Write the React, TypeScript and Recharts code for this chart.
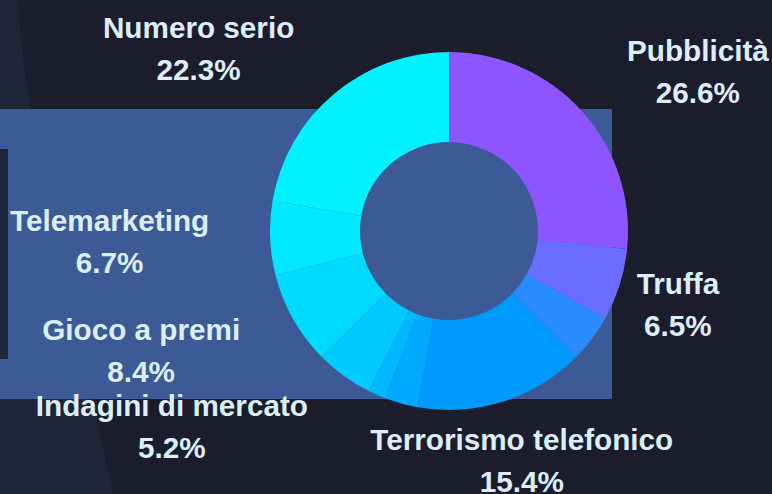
import React from 'react';
import { PieChart, Pie, Cell } from 'recharts';

// categorie e quote (%), in senso orario da ore 12
const categories = [
  'Pubblicità',
  'Truffa',
  'Sondaggi',
  'Terrorismo telefonico',
  'Politica',
  'Beneficenza',
  'Indagini di mercato',
  'Gioco a premi',
  'Telemarketing',
  'Numero serio',
];
const shares = [26.6, 6.5, 4.3, 15.4, 3.0, 1.6, 5.2, 8.4, 6.7, 22.3];
const sliceColors = [
  '#8c55ff', '#6a6dff', '#2a8bff', '#009aff', '#00aaff',
  '#00b8ff', '#00caff', '#00daff', '#00e8ff', '#00f2ff',
];

const data = categories.map((name, i) => ({ name, value: shares[i] }));

const W = 772;
const H = 494;
const FONT = 'bold 29.7px "Liberation Sans", Arial, sans-serif';
const TEXT = '#dceefa';

let ctx: CanvasRenderingContext2D | null = null;
const measure = (s: string) => {
  if (!ctx) ctx = document.createElement('canvas').getContext('2d');
  if (!ctx) return s.length * 15;
  ctx.font = FONT;
  return ctx.measureText(s).width;
};

const RAD = Math.PI / 180;

const renderLabel = (props: any) => {
  const { cx, cy, midAngle, outerRadius, name, value } = props;
  if (value < 5) return null;
  const r = outerRadius + 61;
  const x = cx + r * Math.cos(-midAngle * RAD);
  const y = cy + r * Math.sin(-midAngle * RAD) + 1;
  const pct = `${value.toFixed(1)}%`;
  const w = Math.max(measure(name), measure(pct));
  // blocco di testo: a sinistra allineato a destra, in alto a destra allineato a sinistra
  let center = x;
  if (x < cx - 50) center = x - w / 2;
  else if (y < cy - 100) center = x + w / 2;
  return (
    <g>
      <text x={center} y={y - 21} textAnchor="middle" dominantBaseline="central"
        fill={TEXT} style={{ font: FONT }}>{name}</text>
      <text x={center} y={y + 21} textAnchor="middle" dominantBaseline="central"
        fill={TEXT} style={{ font: FONT }}>{pct}</text>
    </g>
  );
};

export default function App() {
  return (
    <div style={{ position: 'fixed', left: 0, top: 0, width: W, height: H, background: '#1b1d2d', overflow: 'hidden' }}>
      <svg width={W} height={H} style={{ position: 'absolute', left: 0, top: 0 }}>
        <path d="M0,0 L18,0 C24,130 78,330 113,494 L0,494 Z" fill="#1f2639" />
        <rect x={0} y={109} width={612} height={290} fill="#3c5a96" />
        <rect x={0} y={149} width={8} height={210} fill="#1f2538" />
      </svg>
      <div style={{ position: 'absolute', left: 0, top: 0 }}>
        <PieChart width={W} height={H} margin={{ top: 0, right: 0, bottom: 0, left: 0 }}>
          <Pie
            data={data}
            dataKey="value"
            nameKey="name"
            cx={449}
            cy={231}
            innerRadius={89}
            outerRadius={179}
            startAngle={90}
            endAngle={-270}
            stroke="none"
            labelLine={false}
            label={renderLabel}
            isAnimationActive={false}
          >
            {data.map((d, i) => (
              <Cell key={d.name} fill={sliceColors[i]} />
            ))}
          </Pie>
        </PieChart>
      </div>
    </div>
  );
}
